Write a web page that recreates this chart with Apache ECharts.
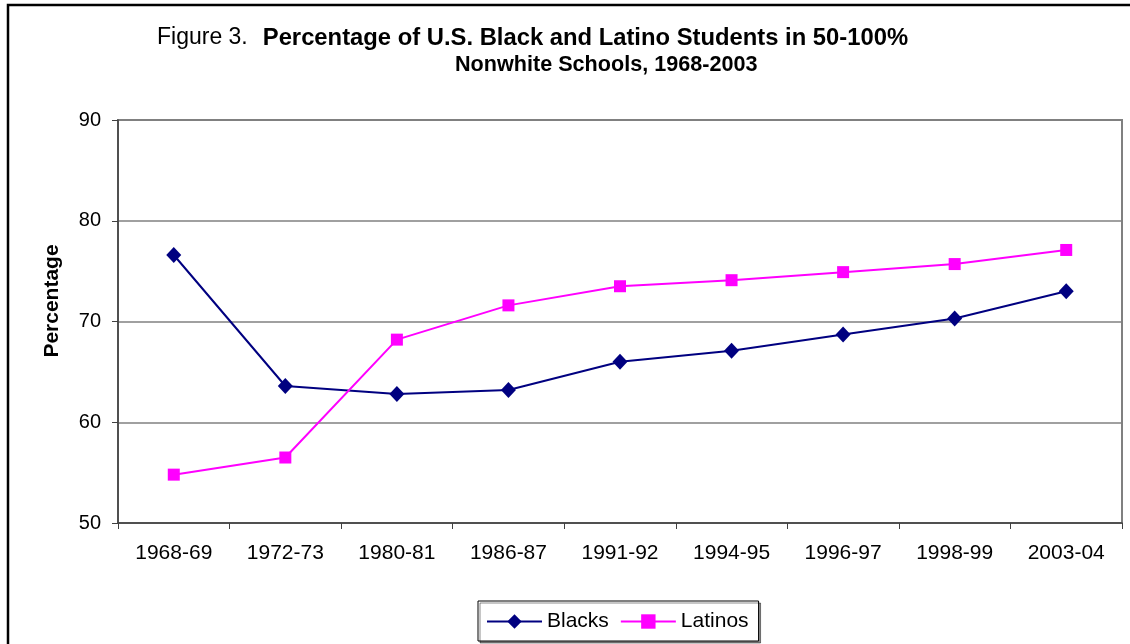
<!DOCTYPE html>
<html>
<head>
<meta charset="utf-8">
<script src="https://cdn.jsdelivr.net/npm/echarts@6/dist/echarts.min.js"></script>
<style>
  html, body { margin: 0; padding: 0; background: #fff; }
  #chart { width: 1130px; height: 644px; }
</style>
</head>
<body>
<div id="chart"></div>
<script>
// School years on the x axis
const years = ['1968-69', '1972-73', '1980-81', '1986-87', '1991-92', '1994-95', '1996-97', '1998-99', '2003-04'];
// Share of students in 50-100% nonwhite schools (%)
const blacks = [76.6, 63.6, 62.8, 63.2, 66.0, 67.1, 68.7, 70.3, 73.0];
const latinos = [54.8, 56.5, 68.2, 71.6, 73.5, 74.1, 74.9, 75.7, 77.1];
// Value axis range
const yMin = 50, yMax = 90, yStep = 10;

const FONT = '"Liberation Sans", Arial, sans-serif';
const chart = echarts.init(document.getElementById('chart'), null, { renderer: 'canvas' });

chart.setOption({
  backgroundColor: '#ffffff',
  animation: false,
  textStyle: { fontFamily: FONT, color: '#000' },
  title: [
    {
      left: 152, top: 21,
      text: '{n|Figure 3.}   {b|Percentage of U.S. Black and Latino Students in 50-100%}',
      textStyle: {
        rich: {
          n: { fontFamily: FONT, fontSize: 23, fontWeight: 'normal', color: '#000' },
          b: { fontFamily: FONT, fontSize: 23.8, fontWeight: 'bold', color: '#000' }
        }
      }
    },
    {
      left: 450, top: 49,
      text: 'Nonwhite Schools, 1968-2003',
      textStyle: { fontFamily: FONT, fontSize: 21.6, fontWeight: 'bold', color: '#000' }
    }
  ],
  graphic: [
    {
      type: 'rect',
      shape: { x: 8, y: 5, width: 1140, height: 700 },
      style: { fill: 'none', stroke: '#000', lineWidth: 2.5 },
      silent: true
    },
    {
      type: 'text',
      x: 52, y: 301,
      rotation: Math.PI / 2,
      style: {
        text: 'Percentage',
        align: 'center', verticalAlign: 'middle',
        font: 'bold 21px "Liberation Sans", Arial, sans-serif',
        fill: '#000'
      },
      silent: true
    }
  ],
  grid: {
    left: 118, right: 8, top: 120, bottom: 121,
    show: true, borderColor: '#808080', borderWidth: 2, backgroundColor: 'transparent'
  },
  legend: {
    left: 478, top: 601,
    padding: [10, 10, 9, 8],
    itemGap: 11,
    itemWidth: 55, itemHeight: 18,
    borderColor: '#000', borderWidth: 1,
    backgroundColor: '#fff',
    shadowColor: 'rgba(0,0,0,0.45)', shadowOffsetX: 2, shadowOffsetY: 2, shadowBlur: 0,
    textStyle: { fontFamily: FONT, fontSize: 21, color: '#000' },
    data: ['Blacks', 'Latinos']
  },
  xAxis: {
    type: 'category',
    data: years,
    boundaryGap: true,
    axisLine: { lineStyle: { color: '#404040', width: 1.5 } },
    axisTick: { show: true, alignWithLabel: false, length: 6, lineStyle: { color: '#404040' } },
    axisLabel: { fontFamily: FONT, fontSize: 21, color: '#000', margin: 20 },
    splitLine: { show: false }
  },
  yAxis: {
    type: 'value',
    min: yMin, max: yMax, interval: yStep,
    axisLine: { show: true, lineStyle: { color: '#404040', width: 1.5 } },
    axisTick: { show: true, length: 6, lineStyle: { color: '#404040' } },
    axisLabel: { fontFamily: FONT, fontSize: 20, color: '#000', margin: 17 },
    splitLine: { show: true, lineStyle: { color: '#808080', width: 1.5 } }
  },
  series: [
    {
      name: 'Blacks',
      type: 'line',
      data: blacks,
      symbol: 'diamond',
      symbolSize: [15, 16],
      lineStyle: { color: '#000080', width: 2 },
      itemStyle: { color: '#000080' }
    },
    {
      name: 'Latinos',
      type: 'line',
      data: latinos,
      symbol: 'rect',
      symbolSize: 12,
      lineStyle: { color: '#ff00ff', width: 2 },
      itemStyle: { color: '#ff00ff' }
    }
  ]
});
</script>
</body>
</html>
